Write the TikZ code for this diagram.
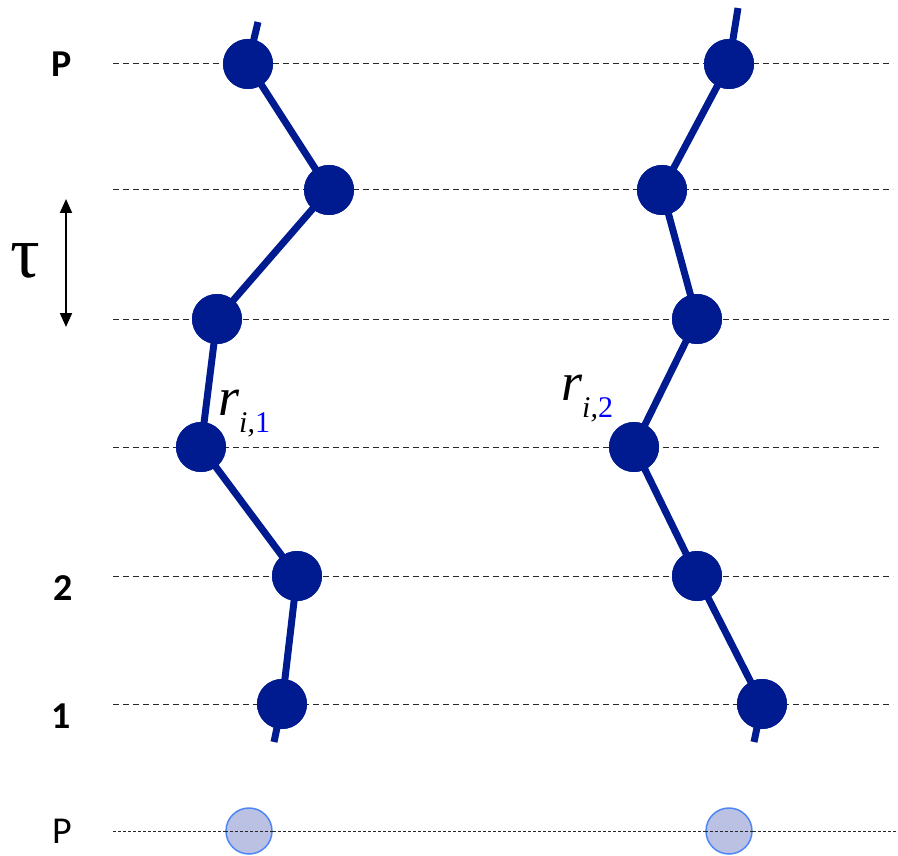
\documentclass[tikz,border=0pt]{standalone}
\usepackage{fontspec}
\setmainfont{Carlito}
\newfontfamily\serifgr{Liberation Serif}
\usetikzlibrary{arrows.meta}
\definecolor{chain}{RGB}{0,26,143}
\definecolor{ghostfill}{RGB}{187,193,226}
\definecolor{ghostline}{RGB}{79,134,247}
\definecolor{gridline}{RGB}{40,40,40}
\tikzset{
  level/.style={draw=gridline, line width=1pt, dash pattern=on 6pt off 4pt},
  finelevel/.style={draw=gridline, line width=0.9pt, dash pattern=on 3pt off 2pt},
  bead/.style={circle, fill=chain, minimum size=50pt, inner sep=0pt},
  ghost/.style={circle, fill=ghostfill, draw=ghostline, line width=1.5pt, minimum size=46pt, inner sep=0pt},
  bond/.style={draw=chain, line width=7pt},
  lab/.style={font=\fontsize{38}{40}\selectfont\bfseries, anchor=center},
  rlab/.style={anchor=base west, inner sep=0pt, font=\serifgr\fontsize{54}{54}\selectfont\itshape},
}
\newcommand{\rsub}[1]{r\raisebox{-17pt}{\fontsize{30}{30}\selectfont\itshape i,\upshape\textcolor{blue}{#1}}}
\begin{document}
\begin{tikzpicture}[x=1pt,y=-1pt]
\useasboundingbox (0,0) rectangle (898,856);
% levels
\draw[level] (113,64) -- (893,64);
\draw[level] (113,190) -- (893,190);
\draw[level] (113,319) -- (893,319);
\draw[level] (113,447) -- (882,447);
\draw[level] (113,576) -- (893,576);
\draw[level] (113,704) -- (893,704);
\draw[finelevel] (113,831) -- (898,831);
% labels
\node[lab] (lP) at (62,64) {P};
\node[lab] (l2) at (63,588) {2};
\node[lab] (l1) at (61,716) {1};
\node[font=\fontsize{38}{40}\selectfont, anchor=center] (lPb) at (62,831) {P};
\node[font=\serifgr\fontsize{74}{74}\selectfont, anchor=center] (tau) at (25,261) {τ};
\coordinate (tauT) at (66,199);
\coordinate (tauB) at (66,327);
\draw[line width=2pt, {Triangle[length=14pt,width=12pt]}-{Triangle[length=14pt,width=12pt]}] (tauT) -- (tauB);
% chain 1
\coordinate (a0) at (258,22);
\coordinate (a7) at (274,742);
\node[bead] (a1) at (248,64) {};
\node[bead] (a2) at (329,190) {};
\node[bead] (a3) at (217,319) {};
\node[bead] (a4) at (201,447) {};
\node[bead] (a5) at (297,576) {};
\node[bead] (a6) at (282,704) {};
\draw[bond] (a0) -- (a1.center) -- (a2.center) -- (a3.center) -- (a4.center) -- (a5.center) -- (a6.center) -- (a7);
\foreach \n in {a1,a2,a3,a4,a5,a6} \fill[chain] (\n) circle (25pt);
% chain 2
\coordinate (b0) at (738,8);
\coordinate (b7) at (754,742);
\node[bead] (b1) at (729,64) {};
\node[bead] (b2) at (662,190) {};
\node[bead] (b3) at (697,319) {};
\node[bead] (b4) at (634,447) {};
\node[bead] (b5) at (697,576) {};
\node[bead] (b6) at (762,704) {};
\draw[bond] (b0) -- (b1.center) -- (b2.center) -- (b3.center) -- (b4.center) -- (b5.center) -- (b6.center) -- (b7);
\foreach \n in {b1,b2,b3,b4,b5,b6} \fill[chain] (\n) circle (25pt);
% ghosts
\node[ghost] (g1) at (249,831) {};
\node[ghost] (g2) at (729,831) {};
\draw[finelevel] (g1.west) -- (g1.east);
\draw[finelevel] (g2.west) -- (g2.east);
% r labels
\node[rlab] (r1) at (218,415) {\rsub{1}};
\node[rlab] (r2) at (561,400) {\rsub{2}};
\end{tikzpicture}
\end{document}
